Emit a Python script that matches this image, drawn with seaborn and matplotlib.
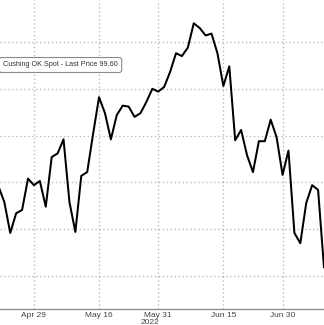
import matplotlib
matplotlib.use("Agg")
import matplotlib.pyplot as plt
import seaborn as sns
import pandas as pd
import numpy as np
from matplotlib import font_manager

# Trading days shown (US market holidays excluded)
dates = [
    "2022-04-21", "2022-04-22", "2022-04-25", "2022-04-26", "2022-04-27", "2022-04-28", "2022-04-29",
    "2022-05-02", "2022-05-03", "2022-05-04", "2022-05-05", "2022-05-06",
    "2022-05-09", "2022-05-10", "2022-05-11", "2022-05-12", "2022-05-13",
    "2022-05-16", "2022-05-17", "2022-05-18", "2022-05-19", "2022-05-20",
    "2022-05-23", "2022-05-24", "2022-05-25", "2022-05-26", "2022-05-27",
    "2022-05-31", "2022-06-01", "2022-06-02", "2022-06-03",
    "2022-06-06", "2022-06-07", "2022-06-08", "2022-06-09", "2022-06-10",
    "2022-06-13", "2022-06-14", "2022-06-15", "2022-06-16", "2022-06-17",
    "2022-06-21", "2022-06-22", "2022-06-23", "2022-06-24",
    "2022-06-27", "2022-06-28", "2022-06-29", "2022-06-30", "2022-07-01",
    "2022-07-05", "2022-07-06", "2022-07-07", "2022-07-08",
    "2022-07-11", "2022-07-12",
]
prices = [
    104.6, 102.9, 99.6, 101.7, 102.05, 105.4, 104.7,
    105.15, 102.4, 107.7, 108.1, 109.6,
    102.9, 99.7, 105.7, 106.1, 110.2,
    114.1, 112.4, 109.6, 112.2, 113.2,
    113.1, 112.0, 112.4, 113.6, 115.0,
    114.7, 115.2, 116.8, 118.8,
    118.5, 119.4, 122.0, 121.5, 120.7,
    120.9, 118.8, 115.3, 117.4, 109.5,
    110.6, 107.9, 106.1, 109.4,
    109.4, 111.7, 109.8, 105.8, 108.4,
    99.6, 98.5, 102.8, 104.7,
    104.2, 95.9,
]
major_dates = ["2022-04-29", "2022-05-16", "2022-05-31", "2022-06-15", "2022-06-30"]
major_labels = ["Apr 29", "May 16", "May 31", "Jun 15", "Jun 30"]
minor_dates = ["2022-04-22", "2022-05-09", "2022-05-23", "2022-06-08", "2022-06-21", "2022-07-08"]
y_grid = [95, 100, 105, 110, 115, 120]
year_label = "2022"
legend_text = "Cushing OK Spot - Last Price 99.60"

names = {f.name for f in font_manager.fontManager.ttflist}
fam = "Liberation Sans Narrow" if "Liberation Sans Narrow" in names else "Liberation Sans"

sns.set_style("white")
plt.rcParams["font.family"] = [fam, "DejaVu Sans"]

base = dates.index("2022-04-29")
idx = [i - base for i in range(len(dates))]
df = pd.DataFrame({"x": idx, "price": prices})

fig = plt.figure(figsize=(3.24, 3.25), dpi=100)
ax = fig.add_axes([0, 16 / 325, 1, 309 / 325])

sns.lineplot(data=df, x="x", y="price", ax=ax, color="black", linewidth=1.45)

ax.set_xlim(-5.73, 49.0)
ax.set_ylim(91.47, 124.49)

ax.set_xticks([dates.index(d) - base for d in major_dates])
ax.set_xticklabels(major_labels)
ax.set_xticks([dates.index(d) - base for d in minor_dates], minor=True)
ax.set_yticks(y_grid)
ax.set_yticklabels([])
ax.tick_params(axis="x", which="major", length=0, pad=2.2, labelsize=6, labelcolor="#444444")
ax.tick_params(axis="x", which="minor", length=2.5, width=0.8, color="#888888", direction="out")
ax.tick_params(axis="y", length=0)

ax.grid(True, which="major", linestyle=(0, (1, 2)), color="#b5b5b5", linewidth=0.95)
ax.set_xlabel("")
ax.set_ylabel("")
for s in ["top", "left", "right"]:
    ax.spines[s].set_visible(False)
ax.spines["bottom"].set_color("#888888")
ax.spines["bottom"].set_linewidth(0.9)

fig.text(150 / 324, 1 - 322 / 325, year_label, ha="center", va="center",
         fontsize=6, color="#444444")

ax.text(3 / 324, 1 - 65 / 309, legend_text, transform=ax.transAxes,
        ha="left", va="center", fontsize=5.2, color="#333333",
        bbox=dict(boxstyle="round,pad=0.55,rounding_size=0.35", facecolor="white",
                  edgecolor="#8a8a8a", linewidth=0.8))

fig.savefig("out.png", dpi=100)
